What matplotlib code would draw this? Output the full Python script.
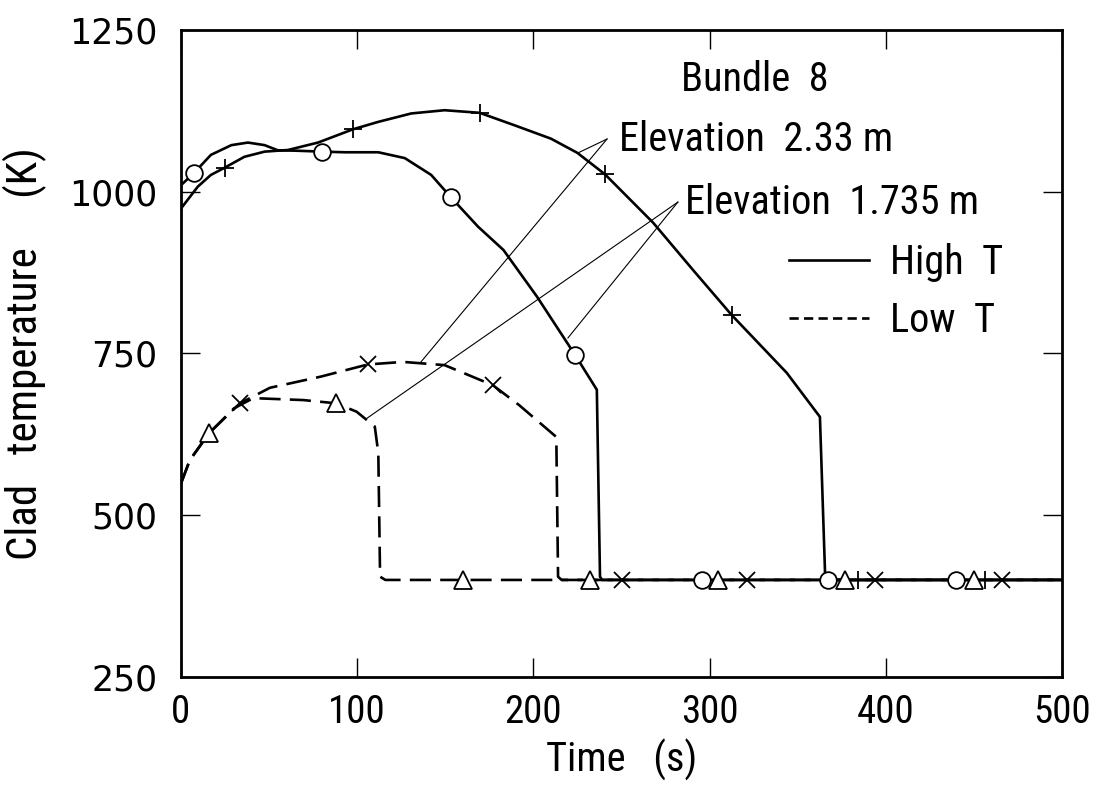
"""Clad temperature vs time, Bundle 8 (digitised figure)."""

import matplotlib
matplotlib.use("Agg")
import matplotlib.pyplot as plt
from matplotlib.lines import Line2D

NARROW = ["Roboto Condensed", "Liberation Sans", "DejaVu Sans"]
plt.rcParams["font.family"] = NARROW

# High T, elevation 2.33 m (+)
t_hi_233 = [0, 9.6, 17, 24.7, 36, 47.5, 60.7, 77.8, 97.6, 112, 130.7, 149.6,
            169.5, 189, 210, 225, 240.6, 268, 290.6, 312.5, 343.8, 362.6,
            365.5, 367, 500]
T_hi_233 = [974, 1008, 1026, 1037, 1054, 1062, 1064.5, 1076, 1096.5, 1108,
            1121, 1126, 1122, 1103, 1082, 1060, 1027, 952, 879, 809.5, 720,
            652, 411, 400, 400]

# High T, elevation 1.735 m (o)
t_hi_1735 = [0, 7.4, 17, 28.6, 38, 47.5, 55, 64.5, 80, 93, 112, 127, 142,
             153, 168.6, 183, 202, 223.6, 236, 237.8, 239, 500]
T_hi_1735 = [1010, 1029, 1057, 1072, 1076, 1072, 1064, 1063.5, 1062, 1061,
             1061, 1052, 1026, 992, 946, 910, 838, 748, 694, 405, 400, 400]

# Low T, elevation 2.33 m (x)
t_lo_233 = [0, 5, 16, 33.5, 50.5, 79, 106, 126, 149.6, 177, 192, 213, 214,
            216, 500]
T_lo_233 = [549, 585, 627, 673, 697, 714, 733, 737, 732, 701, 670, 621, 405,
            400, 400]

# Low T, elevation 1.735 m (triangle)
t_lo_1735 = [0, 5, 16, 30, 41, 69.4, 88, 99.7, 110, 112, 113, 116, 500]
T_lo_1735 = [549, 585, 627, 665, 681, 678, 673, 660, 637, 596, 405, 400, 400]

# marker positions
plus_t = [25, 97.5, 169.5, 240.5, 312.5, 384, 456.5]
plus_T = [1037, 1097, 1122, 1027, 810, 400, 400]
circ_t = [7.5, 80, 153, 223.5, 295.5, 367, 440]
circ_T = [1029, 1062, 992, 748, 400, 400, 400]
cross_t = [33.5, 106, 177, 250, 321, 394, 466]
cross_T = [673, 733, 701, 400, 400, 400, 400]
tri_t = [16, 88, 160, 232, 305, 377, 450]
tri_T = [627, 673, 400, 400, 400, 400, 400]

# leader lines: (tip, end)
leaders_233 = [((241.8, 1081.5), (225.3, 1060)), ((241.8, 1081.5), (135.6, 735))]
leaders_1735 = [((282, 984), (219.6, 774)), ((282, 984), (105.6, 650))]

x_ticks = [0, 100, 200, 300, 400, 500]
y_ticks = [250, 500, 750, 1000, 1250]

fig = plt.figure(figsize=(11, 7.85), dpi=100)
ax = fig.add_axes([0.1645, 0.1376, 0.801, 0.8242])

lw = 1.9
dash = (8, 3.5)
ax.plot(t_hi_233, T_hi_233, color="black", lw=lw, zorder=3)
ax.plot(t_hi_1735, T_hi_1735, color="black", lw=lw, zorder=3)
ax.plot(t_lo_233, T_lo_233, color="black", lw=lw, dashes=dash, zorder=2)
ax.plot(t_lo_1735, T_lo_1735, color="black", lw=lw, dashes=dash, zorder=2)

mkw = dict(ls="none", color="black", zorder=5, mew=1.3)
ax.plot(plus_t, plus_T, marker="+", ms=13, **mkw)
ax.plot(circ_t, circ_T, marker="o", ms=12, mfc="white", **mkw)
ax.plot(cross_t, cross_T, marker="x", ms=11, **mkw)
ax.plot(tri_t, tri_T, marker="^", ms=13, mfc="white", **mkw)

for (x0, y0), (x1, y1) in leaders_233 + leaders_1735:
    ax.plot([x0, x1], [y0, y1], color="black", lw=0.8, zorder=4)

ax.text(284, 1173, "Bundle  8", fontsize=29, va="center", ha="left")
ax.text(248.6, 1080, "Elevation  2.33 m", fontsize=29, va="center", ha="left")
ax.text(286, 984, "Elevation  1.735 m", fontsize=29, va="center", ha="left")

handles = [Line2D([], [], color="black", lw=lw),
           Line2D([], [], color="black", lw=lw, dashes=(3.5, 2))]
ax.legend(handles, ["High  T", "Low  T"], loc="upper left",
          bbox_to_anchor=(0.69, 0.67), frameon=False, fontsize=29,
          handlelength=2.0, handletextpad=0.5, labelspacing=0.45,
          borderpad=0, borderaxespad=0)

ax.set_xlim(0, 500)
ax.set_ylim(250, 1250)
ax.set_xticks(x_ticks)
ax.set_yticks(y_ticks)
ax.tick_params(direction="in", length=14, width=1.0, top=True, right=True)
ax.tick_params(axis="x", labelsize=28, pad=12)
ax.tick_params(axis="y", labelsize=25, pad=17)
for lab in ax.get_yticklabels():
    lab.set_family("DejaVu Sans")
for sp in ax.spines.values():
    sp.set_linewidth(2.0)

ax.set_xlabel("Time   (s)", fontsize=29, labelpad=6)
ax.set_ylabel("Clad   temperature     (K)", fontsize=31, labelpad=16)

fig.savefig("out.png", dpi=100)
